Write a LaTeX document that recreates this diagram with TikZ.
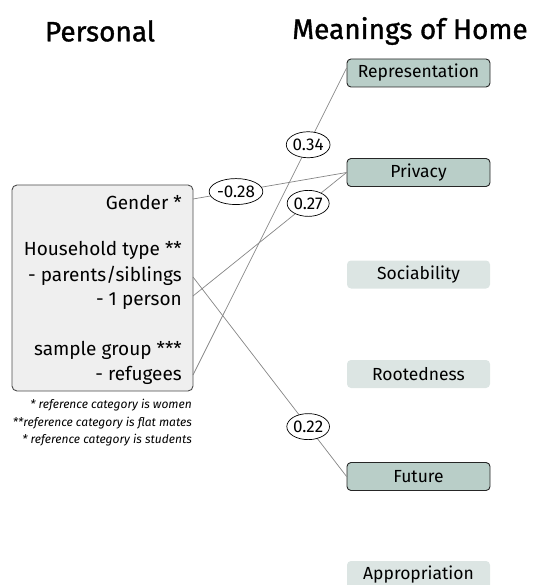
\documentclass[tikz,border=0pt]{standalone}
\usepackage{fontspec}
\setmainfont{Fira Sans}
\newfontfamily\titlefont{Fira Sans}[FakeBold=1.2]
\usetikzlibrary{shapes.geometric}
\definecolor{darkbox}{HTML}{B9CEC8}
\definecolor{lightbox}{HTML}{DCE5E3}
\definecolor{leftfill}{HTML}{EFEFEF}
\definecolor{edgegray}{HTML}{858585}
\begin{document}
\begin{tikzpicture}[x=1pt,y=-1pt,
  title/.style={font=\titlefont\fontsize{28}{30}\selectfont, inner sep=0pt},
  meaning/.style={rounded corners=4pt, minimum width=143pt, minimum height=28pt, inner sep=0pt, font=\fontsize{17.5}{20}\selectfont},
  sig/.style={meaning, draw=black!85, line width=0.9pt, fill=darkbox},
  nonsig/.style={meaning, fill=lightbox},
  coef/.style={ellipse, draw=black, line width=0.7pt, fill=white, inner sep=0pt, minimum width=42pt, minimum height=26pt, font=\fontsize{17}{19}\selectfont},
  conn/.style={draw=edgegray, line width=0.7pt},
  itemtext/.style={anchor=east, inner sep=0pt, font=\fontsize{19}{22}\selectfont},
  foot/.style={anchor=east, inner sep=0pt, font=\fontsize{12}{14}\selectfont\itshape}
]
\useasboundingbox (0,0) rectangle (551,585);
\begin{scope}
\clip (0,0) rectangle (551,585);
\node[title] (tp) at (100,31) {Personal};
\node[title] (tm) at (410,31) {Meanings of Home};

\node[sig] (rep) at (418.5,73) {Representation};
\node[sig] (priv) at (418.5,172.5) {Privacy};
\node[nonsig] (soc) at (418.5,274.5) {Sociability};
\node[nonsig] (root) at (418.5,374) {Rootedness};
\node[sig] (fut) at (418.5,476.5) {Future};
\node[nonsig] (appr) at (418.5,575) {Appropriation};

\node[draw=black!70, line width=0.9pt, fill=leftfill, rounded corners=5pt, minimum width=181pt, minimum height=206pt, inner sep=0pt] (pbox) at (102.5,288) {};
\node[itemtext] (gen) at (182,202) {Gender *};
\node[itemtext] (hh) at (182,250) {Household type **};
\node[itemtext] (par) at (182,276) {- parents/siblings};
\node[itemtext] (one) at (182,301) {- 1 person};
\node[itemtext] (sg) at (182,350) {sample group ***};
\node[itemtext] (ref) at (182,375) {- refugees};

\coordinate (gA) at (193,199);
\coordinate (pA) at (193,277);
\coordinate (oA) at (193,296);
\coordinate (rA) at (193,375);

\node[foot] (f1) at (192,405) {* reference category is women};
\node[foot] (f2) at (192,423) {**reference category is flat mates};
\node[foot] (f3) at (192,440) {* reference category is students};

\path[conn] (gA) -- (priv.west) node[coef, pos=0.28] (c1) {-0.28};
\path[conn] (oA) -- (priv.west) node[coef, pos=0.75] (c2) {0.27};
\path[conn] (rA) -- ([yshift=5pt]rep.west) node[coef, pos=0.75] (c3) {0.34};
\path[conn] (pA) -- (fut.west) node[coef, pos=0.75] (c4) {0.22};
\end{scope}
\end{tikzpicture}
\end{document}
